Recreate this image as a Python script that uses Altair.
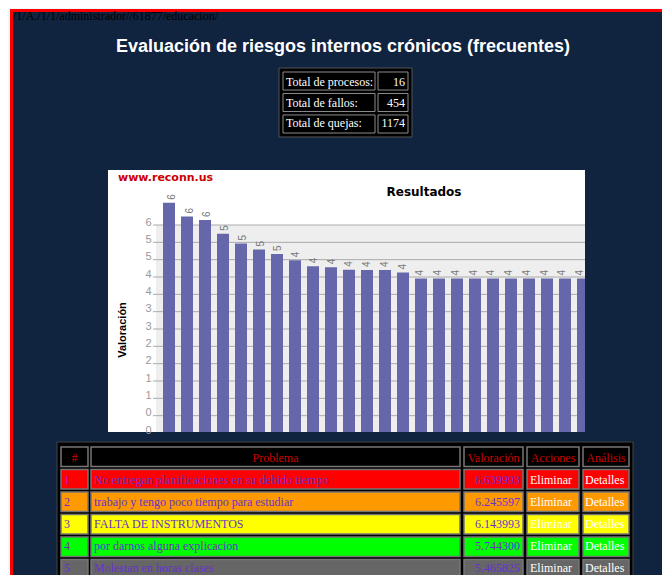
import altair as alt
import pandas as pd

# ---------------- data ----------------
path_text = "/1/A./1/1/administrador//61877/educacion/"
page_title = "Evaluación de riesgos internos crónicos (frecuentes)"

tot_labels = ["Total de procesos:", "Total de fallos:", "Total de quejas:"]
tot_values = [16, 454, 1174]

chart_brand = "www.reconn.us"
chart_title = "Resultados"
y_title = "Valoración"
valoraciones = [6.639993, 6.245597, 6.143993, 5.744300, 5.465825]
bar_values_rest = [5.29, 5.16, 4.98, 4.81, 4.78, 4.71, 4.70, 4.70, 4.63,
                   4.46, 4.46, 4.46, 4.46, 4.46, 4.46, 4.46, 4.46, 4.46, 4.46]
bar_values = valoraciones + bar_values_rest
bar_ids = list(range(1, len(bar_values) + 1))
y_ticks = [0, 0.5, 1, 1.5, 2, 2.5, 3, 3.5, 4, 4.5, 5, 5.5, 6]

headers = ["#", "Problema", "Valoración", "Acciones", "Análisis"]
nums = ["1", "2", "3", "4", "5"]
problemas = [
    "No entregan planificaciones en su debido tiempo",
    "trabajo y tengo poco tiempo para estudiar",
    "FALTA DE INSTRUMENTOS",
    "por darnos alguna explicacion",
    "Molestan en horas clases",
]
acciones = ["Eliminar"] * 5
analisis = ["Detalles"] * 5
row_colors = ["#ff0000", "#ff9900", "#ffff00", "#00ff00", "#666666"]

# ---------------- styling ----------------
OFF = 8
W, H = 654, 567
NAVY = "#10233f"
PURPLE = "#6633cc"
SERIF = "Liberation Serif"
SANS = "Liberation Sans"

one = alt.Data(values=[{"k": 0}])


def P(v):
    return alt.value(v - OFF)


def rect(x0, y0, x1, y1, **kw):
    return alt.Chart(one).mark_rect(**kw).encode(x=P(x0), x2=P(x1), y=P(y0), y2=P(y1))


def label(txt, x, y, **kw):
    return alt.Chart(one).mark_text(text=txt, **kw).encode(x=P(x), y=P(y))


layers = []
# page frame
layers.append(rect(10, 9, 700, 700, fill="#ff0000"))
layers.append(rect(13, 12, 700, 700, fill=NAVY))
layers.append(label(path_text, 13, 20, font=SERIF, fontSize=12, color="#000000",
                    align="left", baseline="alphabetic"))
layers.append(label(page_title, 343, 52, font=SANS, fontSize=18, fontWeight="bold",
                    color="#ffffff", align="center", baseline="alphabetic"))

# totals table
tot_df = pd.DataFrame({"label": tot_labels, "value": tot_values})
tot_y = alt.Y("label:N", axis=None,
              scale=alt.Scale(domain=tot_labels, range=[72 - OFF, 133 - OFF],
                              paddingInner=0.16, paddingOuter=0))
layers.append(rect(279, 68, 412, 137, fill="#000000", stroke="#555555", strokeWidth=1))
layers.append(alt.Chart(tot_df).mark_rect(fill="#000000", stroke="#8c8c8c", strokeWidth=1)
              .encode(y=tot_y, x=P(283), x2=P(375)))
layers.append(alt.Chart(tot_df).mark_rect(fill="#000000", stroke="#8c8c8c", strokeWidth=1)
              .encode(y=tot_y, x=P(378), x2=P(408)))
layers.append(alt.Chart(tot_df).mark_text(align="left", baseline="middle", font=SERIF,
                                          fontSize=12, color="#ffffff")
              .encode(y=tot_y, x=P(286), text="label:N"))
layers.append(alt.Chart(tot_df).mark_text(align="right", baseline="middle", font=SERIF,
                                          fontSize=12, color="#ffffff")
              .encode(y=tot_y, x=P(405), text="value:Q"))

# bar chart image
bar_df = pd.DataFrame({"i": bar_ids, "v": bar_values})
xs = alt.Scale(domain=bar_ids, range=[163 - OFF, 589 - OFF], paddingInner=1 / 3, paddingOuter=0)
ys = alt.Scale(domain=[0, 6], range=[433 - OFF, 225 - OFF], nice=False, zero=False)
layers.append(rect(108, 170, 585, 432, fill="#ffffff"))
layers.append(rect(156, 225, 585, 432, fill="#eeeeee"))
layers.append(alt.Chart(pd.DataFrame({"t": y_ticks[1:]})).mark_rule(color="#aaaaaa", strokeWidth=1)
              .encode(y=alt.Y("t:Q", scale=ys, axis=None), x=P(153), x2=P(585)))
layers.append(alt.Chart(bar_df).mark_bar(color="#6666aa").encode(
    x=alt.X("i:O", scale=xs, axis=None),
    y=alt.Y("v:Q", scale=ys, axis=alt.Axis(
        orient="left", offset=-(156 - OFF), values=y_ticks, labelExpr="floor(datum.value)",
        domain=False, ticks=False, grid=False, labelColor="#999999", labelFont=SANS,
        labelFontSize=11, labelPadding=5, labelOverlap=False, labelOffset=-3,
        title=None, zindex=1))))
layers.append(alt.Chart(bar_df).transform_calculate(lab="floor(datum.v)")
              .mark_text(angle=270, align="left", baseline="middle", dx=3, font=SANS,
                         fontSize=10, color="#777777")
              .encode(x=alt.X("i:O", scale=xs, axis=None),
                      y=alt.Y("v:Q", scale=ys, axis=None), text="lab:N"))
layers.append(label(chart_brand, 118, 178, font="DejaVu Sans", fontSize=11, fontWeight="bold",
                    color="#cc0000", align="left", baseline="middle"))
layers.append(label(chart_title, 424, 192, font="DejaVu Sans", fontSize=12, fontWeight="bold",
                    color="#000000", align="center", baseline="middle"))
layers.append(label(y_title, 123, 330, font=SANS, fontSize=11, fontWeight="bold",
                    color="#000000", align="center", baseline="middle", angle=270))
# clip of the chart image
layers.append(rect(585, 165, 700, 442, fill=NAVY))
layers.append(rect(100, 432, 700, 442, fill=NAVY))

# problems table
keys = ["h"] + nums
tab_y = alt.Y("key:N", axis=None,
              scale=alt.Scale(domain=keys, range=[447 - OFF, 579 - OFF],
                              paddingInner=0.13, paddingOuter=0))
cell_fill = alt.Color("key:N", legend=None,
                      scale=alt.Scale(domain=keys, range=["#000000"] + row_colors))
layers.append(rect(57, 442, 633, 700, fill="#000000", stroke="#444444", strokeWidth=1))
cols = [(61, 88), (91, 460), (464, 523), (527, 579), (583, 629)]
key_df = pd.DataFrame({"key": keys})
for x0, x1 in cols:
    layers.append(alt.Chart(key_df).mark_rect(stroke="#777777", strokeWidth=1.5)
                  .encode(y=tab_y, x=P(x0), x2=P(x1), color=cell_fill))
for (x0, x1), hdr in zip(cols, headers):
    layers.append(alt.Chart(pd.DataFrame({"key": ["h"], "t": [hdr]}))
                  .mark_text(align="center", baseline="middle", font=SERIF, fontSize=12,
                             color="#cc0000")
                  .encode(y=tab_y, x=P((x0 + x1) / 2), text="t:N"))
body = pd.DataFrame({"key": nums, "num": nums, "problema": problemas, "val": valoraciones,
                     "acc": acciones, "ana": analisis})
txt = dict(baseline="middle", font=SERIF, fontSize=12)
layers.append(alt.Chart(body).mark_text(align="left", color=PURPLE, **txt)
              .encode(y=tab_y, x=P(64), text="num:N"))
layers.append(alt.Chart(body).mark_text(align="left", color=PURPLE, **txt)
              .encode(y=tab_y, x=P(94), text="problema:N"))
layers.append(alt.Chart(body).mark_text(align="right", color=PURPLE, **txt)
              .encode(y=tab_y, x=P(520), text=alt.Text("val:Q", format=".6f")))
layers.append(alt.Chart(body).mark_text(align="left", color="#ffffff", **txt)
              .encode(y=tab_y, x=P(530), text="acc:N"))
layers.append(alt.Chart(body).mark_text(align="left", color="#ffffff", **txt)
              .encode(y=tab_y, x=P(585), text="ana:N"))

chart = (alt.layer(*layers)
         .resolve_scale(x="independent", y="independent", color="independent")
         .properties(width=W, height=H, autosize="none", padding=0, background="#f3f7fb")
         .configure_view(stroke=None))

chart.save("out.html", embed_options={"renderer": "svg", "actions": False})
